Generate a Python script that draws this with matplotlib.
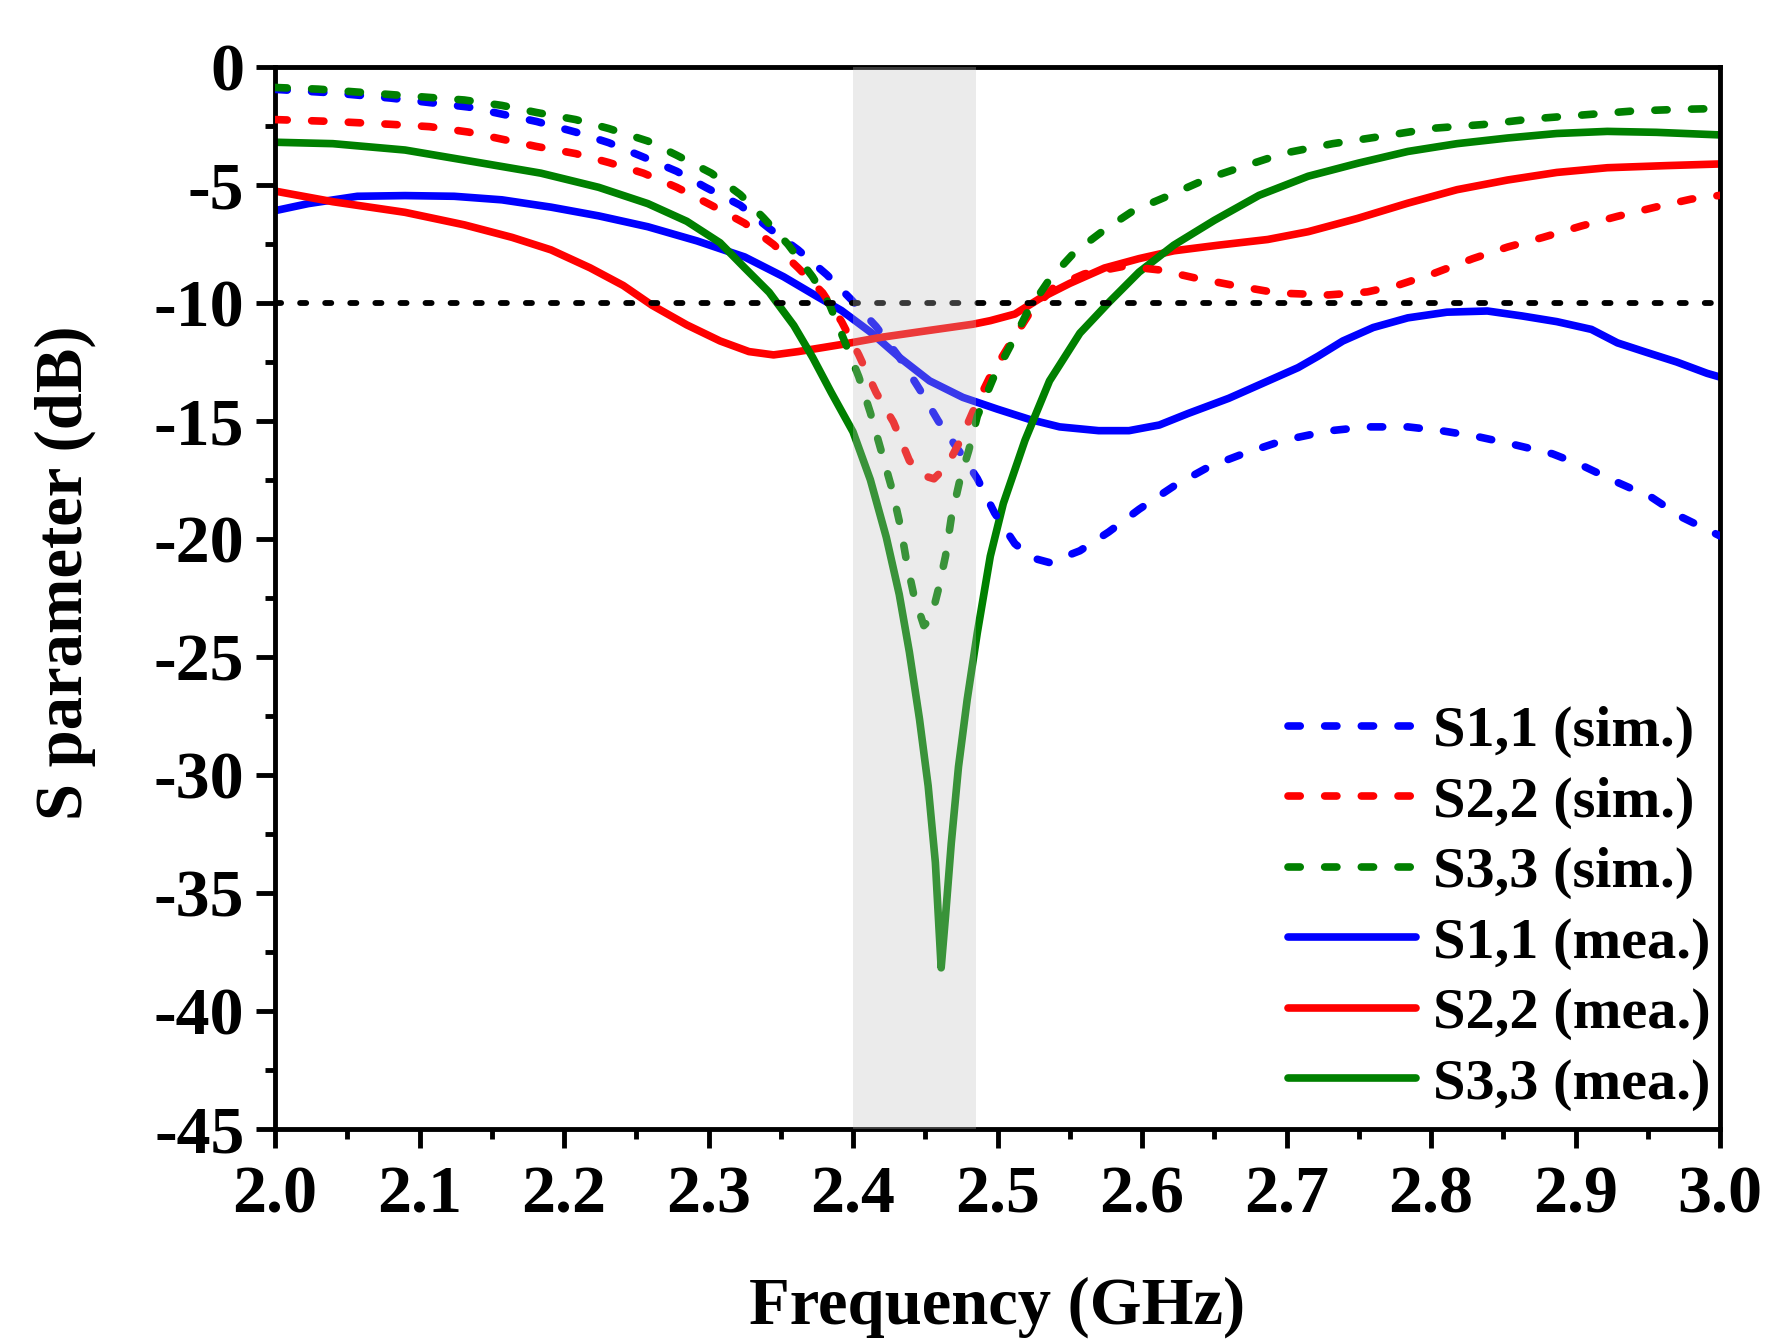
import matplotlib
matplotlib.use("Agg")
import matplotlib.pyplot as plt
from matplotlib.ticker import MultipleLocator

# Données (fréquence en GHz, S en dB)
f_s11_sim = [2.000, 2.040, 2.080, 2.134, 2.181, 2.208, 2.231, 2.255, 2.278, 2.298, 2.322, 2.342,
             2.362, 2.382, 2.399, 2.416, 2.432, 2.446, 2.459, 2.476, 2.486, 2.498, 2.512, 2.524,
             2.536, 2.557, 2.577, 2.598, 2.622, 2.646, 2.670, 2.698, 2.729, 2.756, 2.784, 2.808,
             2.832, 2.856, 2.884, 2.904, 2.929, 2.953, 2.973, 3.000]
s11_sim = [-0.95, -1.10, -1.32, -1.70, -2.31, -2.76, -3.21, -3.82, -4.42, -5.10, -5.86, -6.84,
           -7.75, -8.81, -9.87, -11.0, -12.3, -13.65, -15.0, -16.5, -17.44, -18.9, -20.2, -20.8,
           -21.0, -20.5, -19.7, -18.74, -17.76, -16.95, -16.39, -15.82, -15.42, -15.25, -15.25, -15.42,
           -15.66, -15.98, -16.39, -16.87, -17.6, -18.25, -19.06, -19.87]

f_s22_sim = [2.000, 2.040, 2.080, 2.107, 2.134, 2.157, 2.181, 2.208, 2.231, 2.255, 2.278, 2.302,
             2.325, 2.345, 2.362, 2.379, 2.392, 2.404, 2.416, 2.428, 2.439, 2.448, 2.456, 2.465,
             2.474, 2.483, 2.495, 2.508, 2.522, 2.539, 2.560, 2.588, 2.612, 2.636, 2.663, 2.694,
             2.729, 2.756, 2.777, 2.801, 2.829, 2.853, 2.877, 2.904, 2.929, 2.956, 2.980, 3.000]
s22_sim = [-2.23, -2.31, -2.43, -2.53, -2.76, -3.06, -3.37, -3.67, -4.05, -4.50, -5.10, -5.86,
           -6.62, -7.52, -8.51, -9.57, -10.78, -12.2, -13.8, -15.05, -16.68, -17.3, -17.45, -16.9,
           -15.86, -14.6, -13.1, -11.8, -10.45, -9.33, -8.77, -8.44, -8.60, -8.93, -9.25, -9.58,
           -9.66, -9.53, -9.25, -8.77, -8.12, -7.63, -7.23, -6.74, -6.33, -5.93, -5.60, -5.44]

f_s33_sim = [2.000, 2.030, 2.080, 2.131, 2.157, 2.181, 2.208, 2.231, 2.258, 2.278, 2.302, 2.322,
             2.338, 2.355, 2.372, 2.384, 2.396, 2.404, 2.412, 2.420, 2.427, 2.433, 2.437, 2.442,
             2.449, 2.454, 2.459, 2.464, 2.468, 2.474, 2.480, 2.486, 2.497, 2.509, 2.521, 2.536,
             2.553, 2.574, 2.594, 2.619, 2.646, 2.674, 2.698, 2.732, 2.767, 2.801, 2.836, 2.870,
             2.904, 2.939, 2.970, 3.000]
s33_sim = [-0.87, -0.94, -1.17, -1.40, -1.63, -1.93, -2.23, -2.61, -3.14, -3.74, -4.50, -5.41,
           -6.39, -7.52, -8.89, -10.1, -11.9, -13.13, -14.65, -16.37, -17.89, -19.51, -20.93, -22.35,
           -23.67, -23.37, -22.15, -20.73, -19.11, -17.49, -16.27, -14.8, -13.2, -11.8, -10.35, -9.0,
           -7.87, -6.90, -6.09, -5.44, -4.71, -4.14, -3.66, -3.25, -2.93, -2.60, -2.44, -2.20,
           -2.04, -1.87, -1.80, -1.76]

f_s11_mea = [2.000, 2.023, 2.057, 2.090, 2.124, 2.157, 2.191, 2.224, 2.258, 2.292, 2.325, 2.352,
             2.375, 2.392, 2.412, 2.432, 2.453, 2.476, 2.500, 2.522, 2.543, 2.570, 2.591, 2.612,
             2.632, 2.660, 2.684, 2.708, 2.722, 2.739, 2.760, 2.784, 2.811, 2.839, 2.863, 2.887,
             2.911, 2.929, 2.949, 2.970, 2.991, 3.000]
s11_mea = [-6.09, -5.79, -5.48, -5.45, -5.48, -5.63, -5.94, -6.31, -6.77, -7.37, -8.05, -8.89,
           -9.72, -10.32, -11.23, -12.3, -13.3, -14.0, -14.5, -14.93, -15.25, -15.41, -15.41, -15.17,
           -14.68, -14.04, -13.39, -12.74, -12.25, -11.61, -11.04, -10.63, -10.39, -10.34, -10.55, -10.79,
           -11.12, -11.69, -12.09, -12.50, -12.98, -13.14]

f_s22_mea = [2.000, 2.040, 2.090, 2.131, 2.164, 2.191, 2.218, 2.241, 2.261, 2.285, 2.308, 2.328,
             2.345, 2.362, 2.392, 2.419, 2.453, 2.483, 2.495, 2.512, 2.529, 2.550, 2.574, 2.598,
             2.622, 2.653, 2.687, 2.715, 2.749, 2.784, 2.818, 2.853, 2.887, 2.922, 2.963, 3.000]
s22_mea = [-5.26, -5.71, -6.16, -6.69, -7.22, -7.75, -8.51, -9.26, -10.10, -10.93, -11.61, -12.06,
           -12.20, -12.06, -11.76, -11.46, -11.16, -10.9, -10.75, -10.47, -9.82, -9.17, -8.52, -8.12,
           -7.79, -7.55, -7.31, -6.98, -6.42, -5.77, -5.20, -4.79, -4.47, -4.27, -4.18, -4.11]

f_s33_mea = [2.000, 2.040, 2.090, 2.141, 2.184, 2.224, 2.258, 2.285, 2.308, 2.325, 2.342, 2.359,
             2.372, 2.385, 2.400, 2.412, 2.423, 2.432, 2.439, 2.446, 2.452, 2.457, 2.461, 2.464,
             2.468, 2.473, 2.479, 2.486, 2.495, 2.504, 2.519, 2.536, 2.557, 2.577, 2.598, 2.622,
             2.650, 2.681, 2.715, 2.750, 2.784, 2.818, 2.853, 2.887, 2.922, 2.956, 3.000]
s33_mea = [-3.19, -3.25, -3.52, -4.05, -4.50, -5.10, -5.79, -6.54, -7.45, -8.51, -9.55, -10.95,
           -12.3, -13.8, -15.46, -17.49, -19.92, -22.35, -24.79, -27.63, -30.46, -33.71, -38.17, -36.0,
           -32.89, -29.65, -26.81, -23.98, -20.73, -18.5, -15.82, -13.3, -11.28, -9.98, -8.69, -7.55,
           -6.50, -5.44, -4.63, -4.07, -3.58, -3.25, -3.01, -2.82, -2.73, -2.77, -2.88]

band = (2.400, 2.485)
seuil = -10

plt.rcParams['font.family'] = ['Liberation Serif', 'DejaVu Serif']
plt.rcParams['font.weight'] = 'bold'
plt.rcParams['axes.unicode_minus'] = False

fig = plt.figure(figsize=(17.8, 13.39), dpi=100)
ax = fig.add_axes([0.1545, 0.1568, 0.8118, 0.7932])

dash = (1.6, 3.2)
series = [
    (f_s11_sim, s11_sim, "blue", True, "S1,1 (sim.)"),
    (f_s22_sim, s22_sim, "red", True, "S2,2 (sim.)"),
    (f_s33_sim, s33_sim, "green", True, "S3,3 (sim.)"),
    (f_s11_mea, s11_mea, "blue", False, "S1,1 (mea.)"),
    (f_s22_mea, s22_mea, "red", False, "S2,2 (mea.)"),
    (f_s33_mea, s33_mea, "green", False, "S3,3 (mea.)"),
]
for f, s, c, sim, lab in series:
    if sim:
        ax.plot(f, s, color=c, lw=5.5, dashes=dash, dash_capstyle='round', label=lab, zorder=3)
    else:
        ax.plot(f, s, color=c, lw=5.5, solid_capstyle='round', label=lab, zorder=2)

ax.axhline(seuil, color='black', lw=4.2, dashes=(1.05, 3.25), dash_capstyle='round', zorder=4)
ax.axvspan(band[0], band[1], color=(0.75, 0.75, 0.75), alpha=0.3, lw=0, zorder=5)

ax.set_xlim(2.0, 3.0)
ax.set_ylim(-45, 0)
ax.xaxis.set_major_locator(MultipleLocator(0.1))
ax.xaxis.set_minor_locator(MultipleLocator(0.05))
ax.yaxis.set_major_locator(MultipleLocator(5))
ax.yaxis.set_minor_locator(MultipleLocator(2.5))
ax.xaxis.set_major_formatter(plt.FuncFormatter(lambda v, p: f"{v:.1f}"))
ax.yaxis.set_major_formatter(plt.FuncFormatter(lambda v, p: f"{v:.0f}"))

for sp in ax.spines.values():
    sp.set_linewidth(3.5)
ax.tick_params(which='major', direction='out', length=14, width=3.5, labelsize=49, pad=8)
ax.tick_params(which='minor', direction='out', length=7, width=3.5)
ax.tick_params(axis='x', which='major', pad=12)

ax.set_xlabel("Frequency (GHz)", fontsize=48, fontweight='bold', labelpad=36)
ax.set_ylabel("S parameter (dB)", fontsize=48, fontweight='bold')
ax.yaxis.set_label_coords(-0.124, 0.524)

ax.legend(loc='lower right', bbox_to_anchor=(1.01, -0.005), frameon=False, fontsize=42,
          handlelength=2.2, handletextpad=0.3, labelspacing=0.3, borderaxespad=0.0)

plt.savefig("out.png", dpi=100)
plt.close()
